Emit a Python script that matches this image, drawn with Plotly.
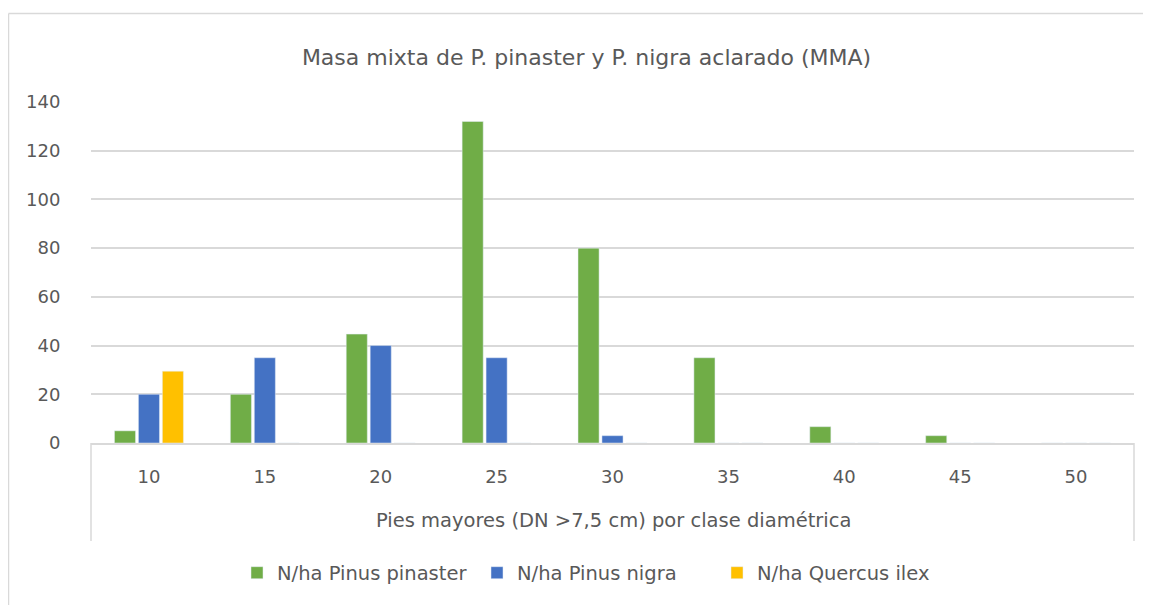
import plotly.graph_objects as go

categories = ["10", "15", "20", "25", "30", "35", "40", "45", "50"]
pinaster = [5, 20, 44.7, 132, 80, 35, 6.7, 3, 0]
nigra = [20, 35, 40, 35, 3, 0, 0, 0, 0]
quercus = [29.5, 0, 0, 0, 0, 0, 0, 0, 0]
y_ticks = [0, 20, 40, 60, 80, 100, 120, 140]

FONT = "DejaVu Sans"
TXT = "#595959"
GRID = "#D9D9D9"

fig = go.Figure()
fig.add_trace(go.Bar(x=categories, y=pinaster, name="N/ha Pinus pinaster", marker_color="#70AD47"))
fig.add_trace(go.Bar(x=categories, y=nigra, name="N/ha Pinus nigra", marker_color="#4472C4"))
fig.add_trace(go.Bar(x=categories, y=quercus, name="N/ha Quercus ilex", marker_color="#FFC000"))

# page body has an 8px margin, so the figure is laid out 8px up/left of the reference coords
O = 8
W, H = 1151 - O, 605 - O
L, R, T, B = 91, 1134, 102, 443  # reference pixel coords of the plot area
pw, ph = R - L, B - T

def px(x):
    return (x - L) / pw

def py(y):
    return (B - y) / ph

shapes = [
    dict(type="line", xref="paper", yref="paper", x0=0, x1=0, y0=0, y1=py(541),
         line=dict(color=GRID, width=1.5)),
    dict(type="line", xref="paper", yref="paper", x0=1, x1=1, y0=0, y1=py(541),
         line=dict(color=GRID, width=1.5)),
    dict(type="line", xref="paper", yref="paper", x0=px(8.5), x1=px(8.5), y0=py(13.5), y1=py(620),
         line=dict(color=GRID, width=1.5)),
    dict(type="line", xref="paper", yref="paper", x0=px(8.5), x1=px(1170), y0=py(13.5), y1=py(13.5),
         line=dict(color=GRID, width=1.5)),
]

fig.update_layout(
    width=W, height=H,
    margin=dict(l=L - O, r=W - (R - O), t=T - O, b=H - (B - O), pad=0),
    paper_bgcolor="white", plot_bgcolor="white",
    font=dict(family=FONT, color=TXT, size=18),
    title=dict(text="Masa mixta de P. pinaster y P. nigra aclarado (MMA)",
               x=px(586.5), xref="paper", xanchor="center", y=1 - (57 - O) / H, yanchor="middle",
               font=dict(family=FONT, size=22, color=TXT)),
    barmode="group", bargap=0.38, bargroupgap=0.12,
    showlegend=True,
    legend=dict(orientation="h", x=px(237), xanchor="left", xref="paper",
                y=py(573), yanchor="middle", font=dict(size=19.5, color=TXT),
                itemwidth=30, entrywidth=195, entrywidthmode="pixels",
                traceorder="normal"),
    shapes=shapes,
    annotations=[dict(text="Pies mayores (DN >7,5 cm) por clase diamétrica",
                      xref="paper", yref="paper", x=px(613), y=py(520),
                      xanchor="center", yanchor="middle", showarrow=False,
                      font=dict(size=19.5, color=TXT))],
)

fig.update_xaxes(type="category", showgrid=False, showline=True, linecolor=GRID, linewidth=1.5,
                 ticks="outside", ticklen=17, tickcolor="rgba(0,0,0,0)",
                 tickfont=dict(size=18, color=TXT), zeroline=False)
fig.update_yaxes(range=[0, 140], tickvals=y_ticks, showgrid=True, gridcolor=GRID, gridwidth=1.5,
                 zeroline=False, showline=False, ticks="outside", ticklen=26,
                 tickcolor="rgba(0,0,0,0)", tickfont=dict(size=18, color=TXT))

fig.write_html("out.html")
